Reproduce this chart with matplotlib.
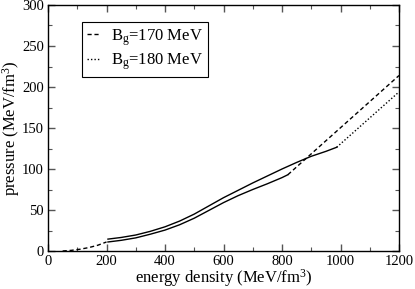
import matplotlib
matplotlib.use("Agg")
import matplotlib.pyplot as plt
from matplotlib.ticker import MultipleLocator

plt.rcParams['font.family'] = ['Liberation Serif', 'DejaVu Serif']
plt.rcParams['mathtext.fontset'] = 'custom'
plt.rcParams['mathtext.rm'] = 'Liberation Serif'
plt.rcParams['mathtext.it'] = 'Liberation Serif:italic'

# hadronic (low-density) branch, shared
low_x = [50, 80, 110, 140, 170, 200]
low_y = [0, 0.8, 2.2, 4.2, 7.0, 11.0]

# B_g = 170 MeV
b170_solid_x = [205, 250, 300, 350, 400, 450, 500, 550, 600, 650, 700, 750, 800, 820]
b170_solid_y = [11, 13, 16, 20.5, 25.5, 32, 40, 49.5, 59, 67.5, 75, 82, 89.5, 93]
b170_dash_x = [820, 1200]
b170_dash_y = [93, 214]

# B_g = 180 MeV
b180_solid_x = [205, 250, 300, 350, 400, 450, 500, 550, 600, 650, 700, 750, 800, 850, 900, 950, 987]
b180_solid_y = [14.5, 16.5, 19.5, 24, 29.5, 36.5, 45, 55, 65, 74, 83, 91.5, 100, 108, 115.5, 121.5, 126.5]
b180_dot_x = [987, 1200]
b180_dot_y = [126.5, 194]

fig = plt.figure(figsize=(4.15, 2.89), dpi=100)
ax = fig.add_axes([48/415, 1 - 251/289, 351/415, 246/289])

lw = 1.0
ax.plot(low_x, low_y, color='black', lw=lw, ls=(0, (3, 2)))
ax.plot(b170_solid_x, b170_solid_y, color='black', lw=lw)
ax.plot(b180_solid_x, b180_solid_y, color='black', lw=lw)
ax.plot(b170_dash_x, b170_dash_y, color='black', lw=lw, ls=(0, (3, 2)),
        label=r'B$_\mathrm{g}$=170 MeV')
ax.plot(b180_dot_x, b180_dot_y, color='black', lw=lw, ls=(0, (1, 1.5)),
        label=r'B$_\mathrm{g}$=180 MeV')

ax.set_xlim(0, 1200)
ax.set_ylim(0, 300)
ax.xaxis.set_major_locator(MultipleLocator(200))
ax.xaxis.set_minor_locator(MultipleLocator(100))
ax.yaxis.set_major_locator(MultipleLocator(50))
ax.yaxis.set_minor_locator(MultipleLocator(25))
ax.tick_params(which='both', direction='in', top=True, right=True,
               labelsize=10.5, color='#555555', pad=3)
ax.tick_params(which='major', length=5, width=1)
ax.tick_params(which='minor', length=3, width=0.8)
for s in ax.spines.values():
    s.set_linewidth(1.0)

ax.set_xlabel(r'energy density (MeV/fm$^3$)', fontsize=12, va='center')
ax.xaxis.set_label_coords(0.5, -(278 - 251) / 246)
ax.set_ylabel(r'pressure (MeV/fm$^3$)', fontsize=12, va='center')
ax.yaxis.set_label_coords(-(48 - 11) / 351, 0.5)

leg = ax.legend(loc='upper left', bbox_to_anchor=(34/351, 1 - 17/246), fontsize=12,
                handlelength=0.8, handletextpad=0.65, borderpad=0.3,
                borderaxespad=0, labelspacing=0.25, fancybox=False, framealpha=1,
                edgecolor='black')
leg.get_frame().set_linewidth(0.8)

fig.savefig('out.png', dpi=100)
